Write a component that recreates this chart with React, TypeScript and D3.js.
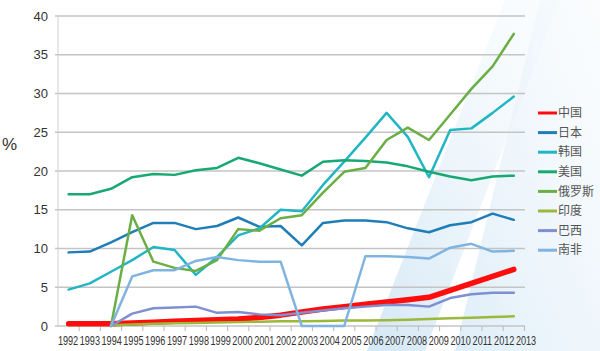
import React from "react";
import * as d3 from "d3";

const years = [1992,1993,1994,1995,1996,1997,1998,1999,2000,2001,2002,2003,2004,2005,2006,2007,2008,2009,2010,2011,2012,2013];
const yTicks = [0,5,10,15,20,25,30,35,40];

const china   = [0.3,0.3,0.3,0.4,0.5,0.6,0.7,0.8,0.9,1.1,1.4,1.8,2.2,2.5,2.8,3.1,3.4,3.7,4.6,5.5,6.4,7.3];
const japan   = [9.5,9.6,10.8,12.1,13.3,13.3,12.5,12.9,14.0,12.8,12.9,10.4,13.3,13.6,13.6,13.4,12.6,12.1,13.0,13.4,14.5,13.7];
const korea   = [4.7,5.5,7.0,8.5,10.2,9.8,6.6,8.9,11.7,12.6,15.0,14.8,18.2,21.2,24.3,27.5,24.4,19.2,25.3,25.5,27.5,29.6];
const usa     = [17.0,17.0,17.7,19.2,19.6,19.5,20.1,20.4,21.7,21.0,20.2,19.4,21.2,21.4,21.3,21.1,20.6,19.9,19.3,18.8,19.3,19.4];
const russia  = [null,null,0,14.3,8.3,7.5,7.1,8.5,12.5,12.3,13.9,14.3,17.2,19.9,20.4,24.0,25.6,24.0,27.3,30.6,33.5,37.7];
const india   = [null,null,0.1,0.2,0.3,0.35,0.4,0.45,0.5,0.55,0.6,0.6,0.65,0.7,0.7,0.75,0.8,0.9,1.0,1.05,1.15,1.25];
const brazil  = [null,null,0,1.6,2.3,2.4,2.5,1.7,1.8,1.5,1.4,1.7,2.0,2.3,2.5,2.7,2.7,2.5,3.6,4.1,4.3,4.3];
const safrica = [null,null,0,6.4,7.2,7.2,8.4,8.9,8.5,8.3,8.3,0,0,0,9.0,9.0,8.9,8.7,10.1,10.6,9.6,9.7];

const seriesNames = ["中国","日本","韩国","美国","俄罗斯","印度","巴西","南非"];
const seriesData = [china, japan, korea, usa, russia, india, brazil, safrica];
const seriesColors = ["#ff0d0d","#1f7db8","#22b6c4","#17a873","#6aae46","#9bb83a","#7f8fd0","#80b4e0"];
const seriesWidths = [5.5,2.5,2.5,2.5,2.5,2.5,2.5,2.5];

export default function App() {
  const W = 600, H = 351;
  const x = d3.scalePoint<number>().domain(years).range([68.6, 513.8]);
  const xLabel = d3.scalePoint<number>().domain(years).range([68, 526]);
  const y = d3.scaleLinear().domain([0, 40]).range([326, 16]);
  const step = x.step();
  const line = d3.line<number | null>()
    .defined(d => d !== null)
    .x((_, i) => x(years[i]) as number)
    .y(d => y(d as number));

  return (
    <svg width={W} height={H} style={{ position: "absolute", left: 0, top: 0, fontFamily: "Liberation Sans, Arial, sans-serif" }}>
      <defs>
        <linearGradient id="bg1" x1="0" y1="1" x2="1" y2="0">
          <stop offset="0" stopColor="#c6e0f2" stopOpacity="1" />
          <stop offset="1" stopColor="#eef6fb" stopOpacity="0.3" />
        </linearGradient>
        <linearGradient id="bg2" x1="0" y1="1" x2="1" y2="0">
          <stop offset="0" stopColor="#d3e8f6" stopOpacity="1" />
          <stop offset="1" stopColor="#f3f8fc" stopOpacity="0.5" />
        </linearGradient>
      </defs>
      <rect width={W} height={H} fill="#ffffff" />
      <polygon points="367,351 425,351 560,0 505,0" fill="url(#bg1)" opacity="0.75" />
      <polygon points="455,351 600,351 600,0 540,0" fill="url(#bg2)" opacity="0.75" />
      {yTicks.map(t => (
        <g key={t}>
          <line x1={55} x2={525} y1={y(t)} y2={y(t)} stroke="#c4c4c4" strokeWidth={1.5} />
          <text x={48} y={y(t)} dy="0.35em" textAnchor="end" fontSize={13} fill="#333">{t}</text>
        </g>
      ))}
      <line x1={58} x2={58} y1={16} y2={326} stroke="#d0d0d0" strokeWidth={1} />
      {years.map((yr, i) => (
        <line key={"t" + yr} x1={(x(yr) as number) + step / 2} x2={(x(yr) as number) + step / 2} y1={326} y2={331} stroke="#b8b8b8" strokeWidth={1} />
      ))}
      {years.map(yr => (
        <text key={"l" + yr} transform={`translate(${xLabel(yr) as number},345) scale(0.76,1)`} textAnchor="middle" fontSize={12} fill="#333">{yr}</text>
      ))}
      <text x={2} y={150} fontSize={17} fill="#333">%</text>
      {seriesData.map((d, k) => (
        <path key={seriesNames[k]} d={line(d) || ""} fill="none" stroke={seriesColors[k]} strokeWidth={seriesWidths[k]} strokeLinejoin="round" strokeLinecap="round" />
      ))}
      {seriesNames.map((n, k) => (
        <g key={"lg" + n} transform={`translate(538, ${113 + k * 19.6})`}>
          <line x1={0} x2={19} y1={0} y2={0} stroke={seriesColors[k]} strokeWidth={3} />
          <text x={20} y={0} dy="0.35em" fontSize={12} fill="#555" fontFamily="Noto Sans CJK SC">{n}</text>
        </g>
      ))}
    </svg>
  );
}
